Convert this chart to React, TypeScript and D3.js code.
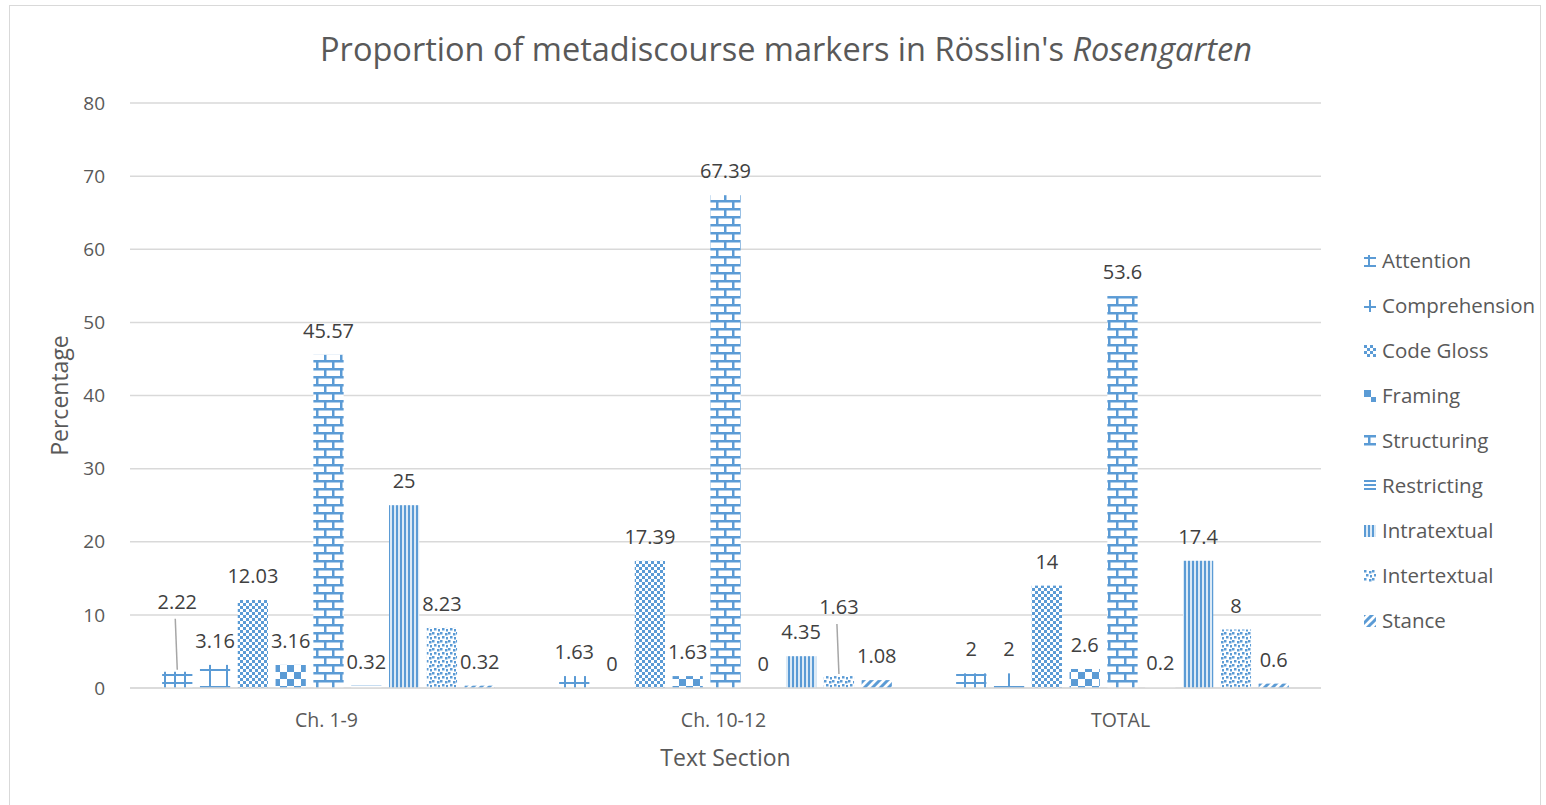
import React from "react";
import { scaleBand, scaleLinear } from "d3";

// values
const categories = ["Ch. 1-9", "Ch. 10-12", "TOTAL"];
const seriesNames = [
  "Attention",
  "Comprehension",
  "Code Gloss",
  "Framing",
  "Structuring",
  "Restricting",
  "Intratextual",
  "Intertextual",
  "Stance",
];
const attention = [2.22, 1.63, 2];
const comprehension = [3.16, 0, 2];
const codeGloss = [12.03, 17.39, 14];
const framing = [3.16, 1.63, 2.6];
const structuring = [45.57, 67.39, 53.6];
const restricting = [0.32, 0, 0.2];
const intratextual = [25, 4.35, 17.4];
const intertextual = [8.23, 1.63, 8];
const stance = [0.32, 1.08, 0.6];
const yTicks = [0, 10, 20, 30, 40, 50, 60, 70, 80];

const seriesValues = [
  attention,
  comprehension,
  codeGloss,
  framing,
  structuring,
  restricting,
  intratextual,
  intertextual,
  stance,
];

// labels that were dragged up in the original, with a leader line
const liftedLabels = [
  { series: "Attention", category: "Ch. 1-9", lift: 46 },
  { series: "Intertextual", category: "Ch. 10-12", lift: 45 },
];

const blue = "#5B9BD5";
const font = "'Open Sans', 'DejaVu Sans', sans-serif";

function Patterns() {
  return (
    <defs>
      {/* Attention: small grid */}
      <pattern id="p0" width={10} height={8} patternUnits="userSpaceOnUse">
        <rect width={10} height={8} fill="#fff" />
        <rect y={2} width={10} height={2} fill={blue} />
        <rect x={4} width={2} height={8} fill={blue} />
      </pattern>
      {/* Comprehension: large grid */}
      <pattern id="p1" width={17} height={17} patternUnits="userSpaceOnUse">
        <rect width={17} height={17} fill="#fff" />
        <rect y={6} width={17} height={2} fill={blue} />
        <rect x={5} width={2} height={17} fill={blue} />
      </pattern>
      {/* Code Gloss: small checker */}
      <pattern id="p2" width={6} height={6} patternUnits="userSpaceOnUse">
        <rect width={6} height={6} fill="#fff" />
        <rect width={3} height={3} fill={blue} />
        <rect x={3} y={3} width={3} height={3} fill={blue} />
      </pattern>
      {/* Framing: large checker */}
      <pattern id="p3" width={14} height={14} patternUnits="userSpaceOnUse">
        <rect width={14} height={14} fill="#fff" />
        <rect width={7} height={7} fill={blue} />
        <rect x={7} y={7} width={7} height={7} fill={blue} />
      </pattern>
      {/* Structuring: horizontal brick */}
      <pattern id="p4" width={16} height={16} patternUnits="userSpaceOnUse">
        <rect width={16} height={16} fill="#fff" />
        <rect width={16} height={2.5} fill={blue} />
        <rect y={8} width={16} height={2.5} fill={blue} />
        <rect x={4} width={2.5} height={8} fill={blue} />
        <rect x={12} y={8} width={2.5} height={8} fill={blue} />
      </pattern>
      {/* Restricting: narrow horizontal */}
      <pattern id="p5" width={4} height={4} patternUnits="userSpaceOnUse">
        <rect width={4} height={4} fill="#fff" />
        <rect width={4} height={2} fill={blue} />
      </pattern>
      {/* Intratextual: narrow vertical */}
      <pattern id="p6" width={4} height={4} patternUnits="userSpaceOnUse">
        <rect width={4} height={4} fill="#dceaf6" />
        <rect width={2} height={4} fill={blue} />
      </pattern>
      {/* Intertextual: confetti */}
      <pattern id="p7" width={8} height={8} patternUnits="userSpaceOnUse">
        <rect width={8} height={8} fill="#fff" />
        <rect x={0} y={0} width={2.5} height={2.5} fill={blue} />
        <rect x={5} y={1} width={2.5} height={2.5} fill={blue} />
        <rect x={2} y={4} width={2.5} height={2.5} fill={blue} />
        <rect x={6} y={5} width={2.5} height={2.5} fill={blue} />
      </pattern>
      {/* Stance: wide upward diagonal */}
      <pattern id="p8" width={8} height={8} patternUnits="userSpaceOnUse">
        <rect width={8} height={8} fill="#fff" />
        <path d="M-2,10 L10,-2 M-2,2 L2,-2 M6,10 L10,6" stroke={blue} strokeWidth={3} />
      </pattern>
    </defs>
  );
}

export default function App() {
  const width = 1546;
  const height = 805;
  const plot = { left: 130, right: 1321, top: 103, bottom: 688 };

  const x0 = scaleBand().domain(categories).range([plot.left, plot.right]);
  const x1 = scaleBand()
    .domain(seriesNames)
    .range([0, x0.bandwidth()])
    .paddingInner(0.2)
    .paddingOuter(0.85);
  const y = scaleLinear().domain([0, 80]).range([plot.bottom, plot.top]);

  const legendX = 1364;
  const legendY = 261;
  const legendStep = 45;

  return (
    <svg
      width={width}
      height={height}
      style={{ position: "absolute", left: 0, top: 0, background: "#fff" }}
      fontFamily={font}
    >
      <Patterns />
      <rect x={9.5} y={5.5} width={1531} height={820} fill="#fff" stroke="#d9d9d9" />

      <text x={786} y={61} textAnchor="middle" fontSize={32.5} fill="#595959">
        Proportion of metadiscourse markers in Rösslin's{" "}
        <tspan fontStyle="italic">Rosengarten</tspan>
      </text>

      {yTicks.map((t) => (
        <g key={t}>
          <line x1={plot.left} x2={plot.right} y1={y(t)} y2={y(t)} stroke="#d9d9d9" strokeWidth={1.5} />
          <text x={105} y={y(t)} dy="0.35em" textAnchor="end" fontSize={19} fill="#595959">
            {t}
          </text>
        </g>
      ))}

      {categories.map((c, ci) => (
        <g key={c}>
          {seriesNames.map((s, si) => {
            const v = seriesValues[si][ci];
            const bx = x0(c)! + x1(s)!;
            const bw = x1.bandwidth();
            const top = y(v);
            const lifted = liftedLabels.find((l) => l.series === s && l.category === c);
            const labelY = top - 17 - (lifted ? lifted.lift : 0);
            return (
              <g key={s}>
                <rect x={bx} y={top} width={bw} height={plot.bottom - top} fill={`url(#p${si})`} />
                {lifted && (
                  <line
                    x1={bx + bw / 2 - 2}
                    y1={labelY + 10}
                    x2={bx + bw / 2}
                    y2={top - 2}
                    stroke="#a6a6a6"
                    strokeWidth={1.5}
                  />
                )}
                <text x={bx + bw / 2} y={labelY} textAnchor="middle" fontSize={20} fill="#404040">
                  {v}
                </text>
              </g>
            );
          })}
          <text x={x0(c)! + x0.bandwidth() / 2 - 2} y={727} textAnchor="middle" fontSize={19.5} fill="#595959">
            {c}
          </text>
        </g>
      ))}

      <line x1={plot.left} x2={plot.right} y1={plot.bottom} y2={plot.bottom} stroke="#d9d9d9" strokeWidth={1.5} />

      <text x={(plot.left + plot.right) / 2} y={766} textAnchor="middle" fontSize={23} fill="#595959">
        Text Section
      </text>
      <text
        transform={`translate(68, ${(plot.top + plot.bottom) / 2}) rotate(-90)`}
        textAnchor="middle"
        fontSize={23}
        fill="#595959"
      >
        Percentage
      </text>

      {seriesNames.map((s, si) => (
        <g key={s} transform={`translate(${legendX}, ${legendY + si * legendStep})`}>
          <g transform="translate(0, -6)">
            <rect width={12} height={12} fill={`url(#p${si})`} />
          </g>
          <text x={18} y={0} dy="0.35em" fontSize={20.5} fill="#595959">
            {s}
          </text>
        </g>
      ))}
    </svg>
  );
}
